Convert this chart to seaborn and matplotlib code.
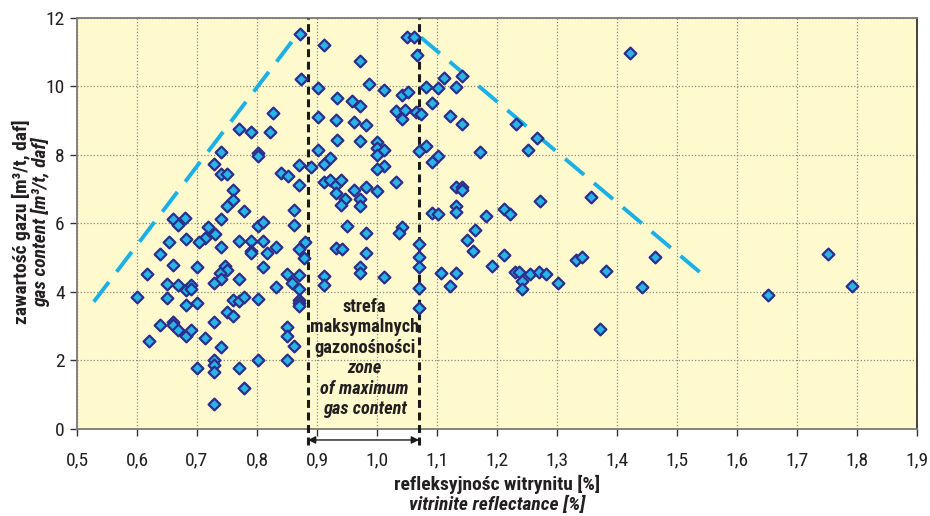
import matplotlib
matplotlib.use("Agg")
import matplotlib.pyplot as plt
import seaborn as sns
import pandas as pd

# ---- data ----
reflectance = [
    0.871, 0.874, 0.826, 0.770, 0.790, 0.821, 0.740, 0.801, 0.801, 0.729,
    0.870, 0.890, 0.740, 0.750, 0.840, 0.852, 0.870, 0.760, 0.760, 0.750,
    0.779, 0.861, 0.660, 0.680, 0.740, 0.669, 0.719, 0.801, 0.810, 0.861,
    0.730, 0.714, 0.704, 0.654, 0.681, 0.740, 0.770, 0.790, 0.790, 0.790,
    0.810, 0.817, 0.831, 0.870, 0.880, 0.879, 0.639, 0.660, 0.700, 0.617,
    0.747, 0.750, 0.739, 0.740, 0.729, 0.770, 0.810, 0.850, 0.870, 0.859,
    0.870, 0.831, 0.650, 0.669, 0.681, 0.690, 0.690, 0.650, 0.600, 0.681,
    0.700, 0.729, 0.760, 0.770, 0.779, 0.801, 0.750, 0.760, 0.870, 0.870,
    0.870, 0.639, 0.660, 0.660, 0.669, 0.681, 0.690, 0.620, 0.714, 0.740,
    0.850, 0.850, 0.861, 0.700, 0.729, 0.729, 0.729, 0.770, 0.801, 0.850,
    0.779, 0.729,
    1.050, 1.062, 1.066, 0.911, 0.971, 1.111, 1.141, 0.986, 0.901, 1.081,
    1.101, 1.131, 1.011, 1.042, 1.051, 0.934, 0.959, 0.971, 1.091, 1.031,
    1.047, 1.065, 1.073, 1.042, 0.901, 0.931, 0.961, 0.981, 1.121, 1.141,
    1.232, 0.934, 0.971, 1.000, 1.000, 1.011, 1.000, 1.081, 1.070, 0.901,
    1.101, 1.091, 1.171, 1.252, 1.267, 0.911, 0.921, 1.011, 1.000, 0.911,
    0.921, 0.931, 0.940, 0.931, 0.961, 0.981, 1.000, 1.031, 0.946, 0.940,
    0.971, 0.971, 1.131, 1.141, 1.141, 1.091, 1.101, 1.131, 1.131, 1.181,
    1.212, 1.222, 1.272, 0.950, 1.041, 1.163,
    0.981, 1.036, 0.931, 0.941, 0.981, 0.971, 0.971, 0.911, 0.911, 1.011,
    1.070, 1.070, 1.070, 1.070, 1.070, 1.150, 1.160, 1.212, 1.192, 1.106,
    1.131, 1.121, 1.230, 1.236, 1.241, 1.255, 1.270, 1.241,
    1.281, 1.301, 1.331, 1.341, 1.381, 1.463, 1.442, 1.371, 1.652,
    1.422, 1.357, 1.752, 1.792,
]
gas_content = [
    11.51, 10.20, 9.21, 8.76, 8.65, 8.65, 8.09, 8.05, 7.97, 7.74,
    7.69, 7.65, 7.45, 7.45, 7.47, 7.38, 7.11, 6.97, 6.68, 6.50,
    6.35, 6.40, 6.13, 6.16, 6.11, 5.95, 5.90, 5.92, 6.04, 5.96,
    5.69, 5.57, 5.44, 5.44, 5.55, 5.30, 5.47, 5.47, 5.20, 5.13,
    5.49, 5.13, 5.30, 5.25, 5.44, 4.98, 5.10, 4.79, 4.71, 4.53,
    4.74, 4.64, 4.56, 4.37, 4.27, 4.37, 4.71, 4.53, 4.50, 4.25,
    4.09, 4.14, 4.23, 4.20, 4.06, 4.20, 4.09, 3.83, 3.86, 3.62,
    3.67, 3.13, 3.77, 3.72, 3.85, 3.80, 3.41, 3.30, 3.77, 3.67,
    3.60, 3.04, 3.12, 3.04, 2.89, 2.70, 2.89, 2.57, 2.65, 2.39,
    2.96, 2.70, 2.42, 1.79, 2.01, 1.87, 1.67, 1.77, 2.01, 2.01,
    1.21, 0.72,
    11.42, 11.44, 10.90, 11.20, 10.72, 10.23, 10.28, 10.07, 9.93, 9.97,
    9.93, 9.97, 9.88, 9.73, 9.84, 9.65, 9.56, 9.42, 9.50, 9.27,
    9.31, 9.24, 9.18, 9.05, 9.11, 9.00, 8.95, 8.86, 9.12, 8.90,
    8.90, 8.42, 8.40, 8.38, 8.20, 8.14, 7.98, 8.25, 8.10, 8.14,
    7.96, 7.80, 8.09, 8.13, 8.48, 7.74, 7.89, 7.67, 7.57, 7.20,
    7.26, 7.13, 7.26, 6.89, 6.97, 7.05, 6.94, 7.21, 6.72, 6.52,
    6.72, 6.50, 7.07, 7.07, 6.96, 6.31, 6.26, 6.49, 6.34, 6.21,
    6.42, 6.26, 6.65, 5.93, 5.88, 5.80,
    5.71, 5.71, 5.29, 5.26, 5.13, 4.71, 4.56, 4.47, 4.20, 4.43,
    5.40, 5.03, 4.71, 4.11, 3.52, 5.50, 5.20, 5.06, 4.76, 4.55,
    4.55, 4.16, 4.57, 4.57, 4.32, 4.53, 4.57, 4.08,
    4.52, 4.25, 4.93, 5.01, 4.61, 5.01, 4.13, 2.91, 3.91,
    10.96, 6.77, 5.09, 4.18,
]

# envelope (blue dashed) lines
left_env_x = [0.528, 0.866]
left_env_y = [3.71, 11.48]
right_env_x = [1.073, 1.543]
right_env_y = [11.42, 4.50]

# zone of maximum gas content
zone_bounds = [0.885, 1.07]

x_ticks = [0.5, 0.6, 0.7, 0.8, 0.9, 1.0, 1.1, 1.2, 1.3, 1.4, 1.5, 1.6, 1.7, 1.8, 1.9]
x_tick_labels = ["0,5", "0,6", "0,7", "0,8", "0,9", "1,0", "1,1", "1,2", "1,3",
                 "1,4", "1,5", "1,6", "1,7", "1,8", "1,9"]
y_ticks = [0, 2, 4, 6, 8, 10, 12]

df = pd.DataFrame({"Ro": reflectance, "gas": gas_content})
env = pd.DataFrame({
    "x": left_env_x + right_env_x,
    "y": left_env_y + right_env_y,
    "side": ["left"] * len(left_env_x) + ["right"] * len(right_env_x),
})

sns.set_style("ticks")
plt.rcParams["font.family"] = ["Roboto Condensed", "DejaVu Sans"]
TXT = "#231f20"

fig = plt.figure(figsize=(9.3, 5.16), dpi=100)
ax = fig.add_axes([77 / 930, 1 - 429 / 516, (917 - 77) / 930, (429 - 17.5) / 516])
ax.set_facecolor("#fffacd")

ax.grid(True, color="#8a8a80", linestyle=(0, (1, 1.6)), linewidth=0.9)
ax.set_axisbelow(True)

# envelope lines
for side, sub in env.groupby("side"):
    sns.lineplot(data=sub, x="x", y="y", ax=ax, color="#1ab0e6", linewidth=2.8,
                 sort=False, estimator=None, legend=False, zorder=2)
for ln in ax.get_lines():
    ln.set_linestyle((0, (6.4, 3.3)))
    ln.set_dash_capstyle("butt")

# zone boundaries
for xb in zone_bounds:
    ax.plot([xb, xb], [-0.47, 12], color="#1a1a1a", linewidth=2.2,
            linestyle=(0, (2.6, 1.5)), clip_on=False, zorder=4)
ax.annotate("", xy=(zone_bounds[0], -0.32), xytext=(zone_bounds[1], -0.32),
            arrowprops=dict(arrowstyle="<|-|>", color="#1a1a1a", lw=1.0,
                            mutation_scale=11, shrinkA=0, shrinkB=0),
            annotation_clip=False, zorder=4)

# points
sns.scatterplot(data=df, x="Ro", y="gas", ax=ax, marker="D", s=36,
                color="#27b4e6", edgecolor="#2b2e8c", linewidth=1.6,
                legend=False, zorder=5)

xc = (zone_bounds[0] + zone_bounds[1]) / 2 + 0.002
ax.text(xc, 2.96, "strefa\nmaksymalnych\ngazonośności", ha="center", va="center",
        fontsize=13.2, fontweight="bold", color=TXT, linespacing=1.2, zorder=6)
ax.text(xc, 1.18, "zone\nof maximum\ngas content", ha="center", va="center",
        fontsize=13.2, fontweight="bold", fontstyle="italic", color=TXT,
        linespacing=1.2, zorder=6)

ax.set_xlim(0.5, 1.9)
ax.set_ylim(0, 12)
ax.set_xticks(x_ticks)
ax.set_xticklabels(x_tick_labels)
ax.set_yticks(y_ticks)
ax.tick_params(axis="x", length=5, width=1, color="#333333", pad=11,
               labelsize=14, labelcolor=TXT)
ax.tick_params(axis="y", length=5, width=1, color="#333333", pad=4,
               labelsize=14, labelcolor=TXT)
ax.set_xlabel("")
ax.set_ylabel("")
for name, sp in ax.spines.items():
    sp.set_visible(True)
    sp.set_color("#7a7a7a")
    sp.set_linewidth(1.3)
ax.spines["right"].set_color("#333333")

# axis titles
fig.text(497 / 930, 1 - 484 / 516, "refleksyjnośc witrynitu [%]", ha="center", va="center",
         fontsize=14, fontweight="bold", color=TXT)
fig.text(497 / 930, 1 - 505 / 516, "vitrinite reflectance [%]", ha="center", va="center",
         fontsize=14, fontweight="bold", fontstyle="italic", color=TXT)
fig.text(21 / 930, 1 - 222 / 516, "zawartość gazu [m³/t, daf]", ha="center", va="center",
         rotation=90, fontsize=14, fontweight="bold", color=TXT)
fig.text(41 / 930, 1 - 222 / 516, "gas content [m³/t, daf]", ha="center", va="center",
         rotation=90, fontsize=14, fontweight="bold", fontstyle="italic", color=TXT)

fig.savefig("out.png", dpi=100, facecolor="white")
